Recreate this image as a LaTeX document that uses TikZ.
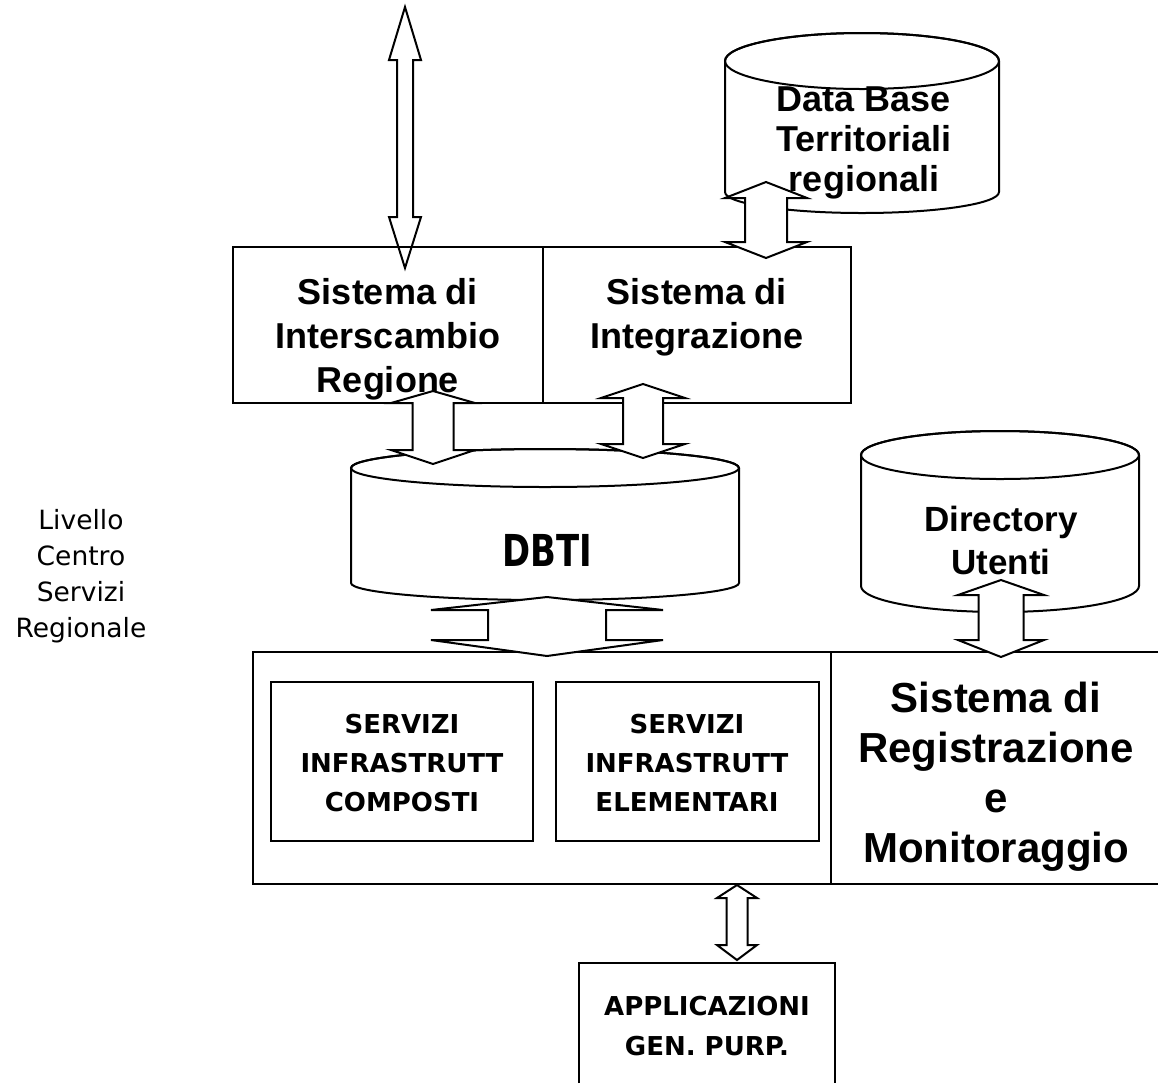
\documentclass[tikz,border=0pt]{standalone}
\usepackage{fontspec}
\setmainfont{Liberation Sans}
\newfontfamily\humanist{DejaVu Sans}
\usetikzlibrary{calc}

\tikzset{
  outline/.style={draw=black, line width=1pt},
  panel/.style={outline, rectangle, inner sep=0pt, outer sep=0pt},
  blockarr/.style={outline, fill=white, line join=miter},
  titletext/.style={font=\bfseries\fontsize{18}{22}\selectfont, align=center, inner sep=0pt},
  captext/.style={font=\humanist\bfseries\fontsize{13}{19.5}\selectfont, align=center, inner sep=0pt},
}

% hollow two-headed block arrow between two tip coordinates
% #1 upper tip, #2 lower tip, #3 head half width, #4 shaft half width,
% #5 upper head length, #6 lower head length
\newcommand{\blockarrow}[6]{%
  \draw[blockarr] (#1) -- ++(#3,-#5) -- ++({#4-#3},0) -- ($(#2)+(#4,#6)$)
    -- ++({#3-#4},0) -- (#2) -- ++(-#3,#6) -- ++({#3-#4},0)
    -- ($(#1)+(-#4,-#5)$) -- ++({#4-#3},0) -- cycle;}

\begin{document}
\begin{tikzpicture}[x=0.5pt, y=0.5pt]
\fill[white] (0,0) rectangle (1158,-1083);
\useasboundingbox (0,0) rectangle (1158,-1083);

% exchange link to the outside
\coordinate (xchg-up) at (405,-7);
\coordinate (xchg-down) at (405,-268);
\blockarrow{xchg-up}{xchg-down}{16}{8}{53}{51}

% regional territorial databases
\draw[outline, fill=white] (725,-61) -- (725,-192)
  arc[start angle=180, end angle=360, x radius=68.5pt, y radius=10.5pt]
  -- (999,-61) arc[start angle=0, end angle=180, x radius=68.5pt, y radius=14pt] -- cycle;
\draw[outline] (862,-61) ellipse[x radius=68.5pt, y radius=14pt];

% DBTI
\draw[outline, fill=white] (351,-468) -- (351,-583)
  arc[start angle=180, end angle=360, x radius=97pt, y radius=8.5pt]
  -- (739,-468) arc[start angle=0, end angle=180, x radius=97pt, y radius=9.5pt] -- cycle;
\draw[outline] (545,-468) ellipse[x radius=97pt, y radius=9.5pt];

% user directory
\draw[outline, fill=white] (861,-455) -- (861,-586)
  arc[start angle=180, end angle=360, x radius=69.5pt, y radius=13pt]
  -- (1139,-455) arc[start angle=0, end angle=180, x radius=69.5pt, y radius=12pt] -- cycle;
\draw[outline] (1000,-455) ellipse[x radius=69.5pt, y radius=12pt];

% upper systems
\node[panel, minimum width=155pt, minimum height=78pt] (interscambio) at (388,-325) {};
\node[panel, minimum width=154pt, minimum height=78pt] (integrazione) at (697,-325) {};

% infrastructure services and registration system
\node[panel, minimum width=289pt, minimum height=116pt] (infra) at (542,-768) {};
\draw[outline] (infra.north east) -- (1158,-652);
\draw[outline] (infra.south east) -- (1158,-884);
\node[panel, minimum width=131pt, minimum height=79.5pt] (composti) at (402,-761.5) {};
\node[panel, minimum width=131.5pt, minimum height=79.5pt] (elementari) at (687.5,-761.5) {};

% general purpose applications
\draw[outline] (579,-1083) -- (579,-963) -- (835,-963) -- (835,-1083);

% links
\coordinate (dbt-up) at (766,-182);
\coordinate (dbt-down) at (766,-258);
\blockarrow{dbt-up}{dbt-down}{41}{21}{16}{16}
\coordinate (a1-up) at (433,-391);
\coordinate (a1-down) at (433,-464);
\blockarrow{a1-up}{a1-down}{42}{20.5}{12}{14}
\coordinate (a2-up) at (643,-384);
\coordinate (a2-down) at (643,-458);
\blockarrow{a2-up}{a2-down}{42}{20}{14}{14}
\coordinate (a3-up) at (547,-597);
\coordinate (a3-down) at (547,-656);
\blockarrow{a3-up}{a3-down}{116}{59}{13}{16}
\coordinate (a4-up) at (1001,-580);
\coordinate (a4-down) at (1001,-657);
\blockarrow{a4-up}{a4-down}{43}{22.5}{15}{17}
\coordinate (a5-up) at (737,-885);
\coordinate (a5-down) at (737,-960);
\blockarrow{a5-up}{a5-down}{20}{10.5}{13}{15}

% labels
\node[titletext] (t-inter) at (388,-339) {Sistema di\\Interscambio\\Regione};
\node[titletext] (t-integ) at (697,-317) {Sistema di\\Integrazione};
\node[titletext, font=\bfseries\fontsize{18}{20}\selectfont] (t-dbt) at (864,-143) {Data Base\\Territoriali\\regionali};
\node[titletext, font=\bfseries\fontsize{17.5}{21.5}\selectfont] (t-dir) at (1001,-540) {Directory\\Utenti};
\node[titletext, font=\bfseries\fontsize{21}{25}\selectfont] (t-reg) at (996,-777) {Sistema di\\Registrazione\\e\\Monitoraggio};
\node[inner sep=0pt, font=\humanist\bfseries\fontsize{22}{26}\selectfont] (t-dbti) at (547,-550) {\scalebox{0.77}[1]{DBTI}};
\node[captext] (t-comp) at (402,-763) {SERVIZI\\INFRASTRUTT\\COMPOSTI};
\node[captext] (t-elem) at (687,-763) {SERVIZI\\INFRASTRUTT\\ELEMENTARI};
\node[captext, font=\humanist\bfseries\fontsize{13}{20}\selectfont] (t-app) at (707,-1026) {APPLICAZIONI\\GEN. PURP.};
\node[align=center, inner sep=0pt, font=\humanist\fontsize{13.25}{18}\selectfont] (t-level) at (81,-576) {Livello\\Centro\\Servizi\\Regionale};
\end{tikzpicture}
\end{document}
